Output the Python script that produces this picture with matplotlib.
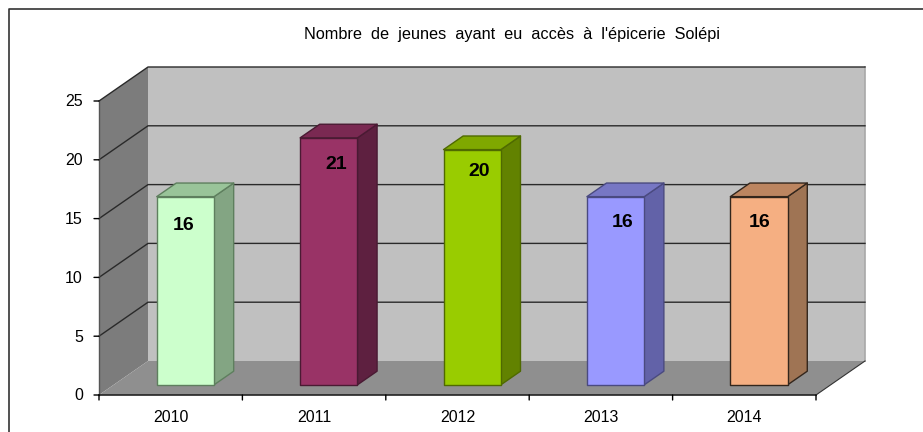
#!/usr/bin/env python3
# -*- coding: utf-8 -*-

import matplotlib
matplotlib.use("Agg")
import matplotlib.pyplot as plt
from matplotlib.patches import Polygon

plt.rcParams['font.family'] = ['Liberation Sans', 'DejaVu Sans']

# data
years = ["2010", "2011", "2012", "2013", "2014"]
values = [16, 21, 20, 16, 16]
y_ticks = [0, 5, 10, 15, 20, 25]
title = "Nombre  de  jeunes  ayant  eu  accès  à  l'épicerie  Solépi"

# bar colours: front, top, side, outline
col_front = ["#CCFFCC", "#993366", "#99CC00", "#9999FF", "#F5AF82"]
col_top = ["#99C499", "#7A2952", "#7FA800", "#7777C4", "#BC8560"]
col_side = ["#83A583", "#5E2040", "#628200", "#6262A8", "#9F7454"]
col_edge = ["#5E7F5E", "#4A1A33", "#4F6A00", "#4A4A80", "#33261C"]

# where the data labels sit (pixels from top centre of the front face)
label_dx = [-2, 7, 7, 7, 1]
label_dy = [-29, -27, -22, -26, -26]

W, H = 923, 432
fig = plt.figure(figsize=(W / 100, H / 100), dpi=100)

# front plane of the 3D box
left, right, bottom, top = 99, 816, 395, 101
ax = fig.add_axes([left / W, 1 - bottom / H, (right - left) / W, (bottom - top) / H])
ax.set_xlim(-0.5, 4.5)
ax.set_ylim(0, 25)
ax.axis("off")

# depth vector in data units (49 px right, 34 px up)
DX = 49 / ((right - left) / 5)
DY = 34 / ((bottom - top) / 25)


def proj(x, y, d):
    return (x + d * DX, y + d * DY)


def poly(pts, fc, ec="none", lw=0.0, z=1):
    ax.add_patch(Polygon(pts, closed=True, facecolor=fc, edgecolor=ec, linewidth=lw,
                         zorder=z, clip_on=False, joinstyle="round"))


x0, x1 = -0.5, 4.5
y0, y1 = 0, 25

# walls and floor
poly([proj(x0, y0, 1), proj(x1, y0, 1), proj(x1, y1, 1), proj(x0, y1, 1)], "#C0C0C0")
poly([proj(x0, y0, 0), proj(x0, y0, 1), proj(x0, y1, 1), proj(x0, y1, 0)], "#7C7C7C")
poly([proj(x0, y0, 0), proj(x1, y0, 0), proj(x1, y0, 1), proj(x0, y0, 1)], "#8F8F8F")

# right edge of back wall
ax.plot(*zip(proj(x1, y0, 1), proj(x1, y1, 1)), color="#A8A8A8", lw=1.2, zorder=2, clip_on=False)

# gridlines on the left wall and back wall
for t in y_ticks[1:]:
    pts = [proj(x0, t, 0), proj(x0, t, 1), proj(x1, t, 1)]
    ax.plot(*zip(*pts), color="#2A2A2A", lw=1.0, zorder=2, clip_on=False)

# axis lines
ax.plot([x0, x0], [y0, y1], color="#555555", lw=1.0, zorder=3, clip_on=False)
ax.plot([x0, x1], [y0, y0], color="#222222", lw=1.2, zorder=3, clip_on=False)
ax.plot(*zip(proj(x1, y0, 0), proj(x1, y0, 1)), color="#333333", lw=0.8, zorder=3, clip_on=False)

# ticks and labels
for t in y_ticks:
    ax.annotate("", xy=(x0, t), xytext=(-5, 0), textcoords="offset pixels",
                arrowprops=dict(arrowstyle="-", color="black", lw=1.0, shrinkA=0, shrinkB=0),
                annotation_clip=False)
    ax.annotate(str(t), xy=(x0, t), xytext=(-16, -1), textcoords="offset pixels",
                ha="right", va="center", fontsize=11.5, color="black", annotation_clip=False)

for i in range(len(years) + 1):
    ax.annotate("", xy=(i - 0.5, 0), xytext=(0, -5), textcoords="offset pixels",
                arrowprops=dict(arrowstyle="-", color="black", lw=1.0, shrinkA=0, shrinkB=0),
                annotation_clip=False)

for i, yr in enumerate(years):
    ax.annotate(yr, xy=(i, 0), xytext=(0, -22), textcoords="offset pixels",
                ha="center", va="center", fontsize=11.5, color="black", annotation_clip=False)

# bars
bar_w = 0.4
d_front, d_back = 0.3, 0.7
for i, v in enumerate(values):
    a, b = i - bar_w / 2, i + bar_w / 2
    edge = col_edge[i]
    poly([proj(b, 0, d_front), proj(b, 0, d_back), proj(b, v, d_back), proj(b, v, d_front)],
         col_side[i], edge, 1.0, 5)
    poly([proj(a, v, d_front), proj(b, v, d_front), proj(b, v, d_back), proj(a, v, d_back)],
         col_top[i], edge, 1.0, 5)
    poly([proj(a, 0, d_front), proj(b, 0, d_front), proj(b, v, d_front), proj(a, v, d_front)],
         col_front[i], edge, 1.0, 6)
    ax.annotate(str(v), xy=proj(i, v, d_front), xytext=(label_dx[i], label_dy[i]),
                textcoords="offset pixels", ha="center", va="center", fontsize=14,
                fontweight="bold", color="black", zorder=7, annotation_clip=False)

# title
fig.text(512 / W, 1 - 35 / H, title, ha="center", va="center", fontsize=11.7, color="black")

# chart frame, only top and left show
fig.add_artist(plt.Line2D([9 / W, 9 / W, 1], [0, 1 - 9 / H, 1 - 9 / H], color="#333333", lw=1.2))

fig.savefig("out.png", dpi=100)
